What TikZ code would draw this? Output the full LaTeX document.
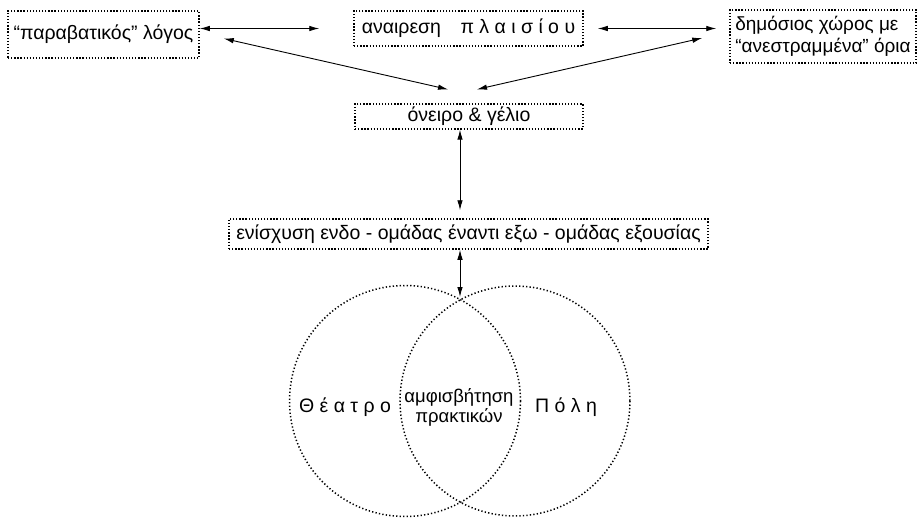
\documentclass[tikz,border=0pt]{standalone}
\usepackage{fontspec}
\setmainfont{Liberation Sans}
\usetikzlibrary{arrows.meta,calc,positioning}
\tikzset{
  dotbox/.style={draw,line width=1.5pt,dash pattern=on 1.3pt off 1.8pt,inner sep=3pt},
  link/.style={<->,line width=0.9pt},
  ring/.style={line width=1.5pt,dash pattern=on 1.3pt off 2.2pt},
}
\begin{document}
\begin{tikzpicture}[x=1pt,y=-1pt,>={Latex[length=10pt,width=5.5pt]},font=\fontsize{19.5}{22}\selectfont]
\useasboundingbox (0,0) rectangle (918,519);
% top row
\node[dotbox,minimum width=191,minimum height=47] (trans) at (103.5,34.5) {“παραβατικός” λόγος};
\node[dotbox,minimum width=229,minimum height=35] (frame) at (468.5,28.5) {αναιρεση\quad π λ α ι σ ί ο υ};
\node[dotbox,minimum width=186,minimum height=53,align=left,inner xsep=1pt,font=\fontsize{19}{22}\selectfont] (public) at (823,36.5) {δημόσιος χώρος με\\“ανεστραμμένα” όρια};
% middle
\node[dotbox,minimum width=228,minimum height=23] (dream) at (469,116.5) {όνειρο \& γέλιο};
\node[dotbox,minimum width=479,minimum height=30] (group) at (468.5,234) {ενίσχυση ενδο - ομάδας έναντι εξω - ομάδας εξουσίας};
% two circles
\draw[ring] (405,401) circle (115.5);
\draw[ring] (515,401) circle (115);
\coordinate (lens) at (460,297);
\node (theatre) at (345,407) {Θ έ α τ ρ ο};
\node (city) at (566,407) {Π ό λ η};
\node[align=center,font=\fontsize{18.5}{20}\selectfont] (dispute) at (459,407) {αμφισβήτηση\\πρακτικών};
% arrows
\draw[link] ([yshift=6]trans.east) -- ([xshift=-34]frame.west);
\draw[link] ([xshift=14]frame.east) -- ([xshift=-13,yshift=8]public.west);
\draw[link] ([xshift=24,yshift=-4]trans.east) -- ([xshift=-21,yshift=14]dream.north);
\draw[link] ([xshift=-27,yshift=-1.5]public.west) -- ([xshift=8,yshift=14]dream.north);
\draw[link] ([xshift=-9]dream.south) -- ([xshift=-8.5,yshift=8]group.north);
\draw[link] ([xshift=-8.5]group.south) -- (lens);
\end{tikzpicture}
\end{document}
